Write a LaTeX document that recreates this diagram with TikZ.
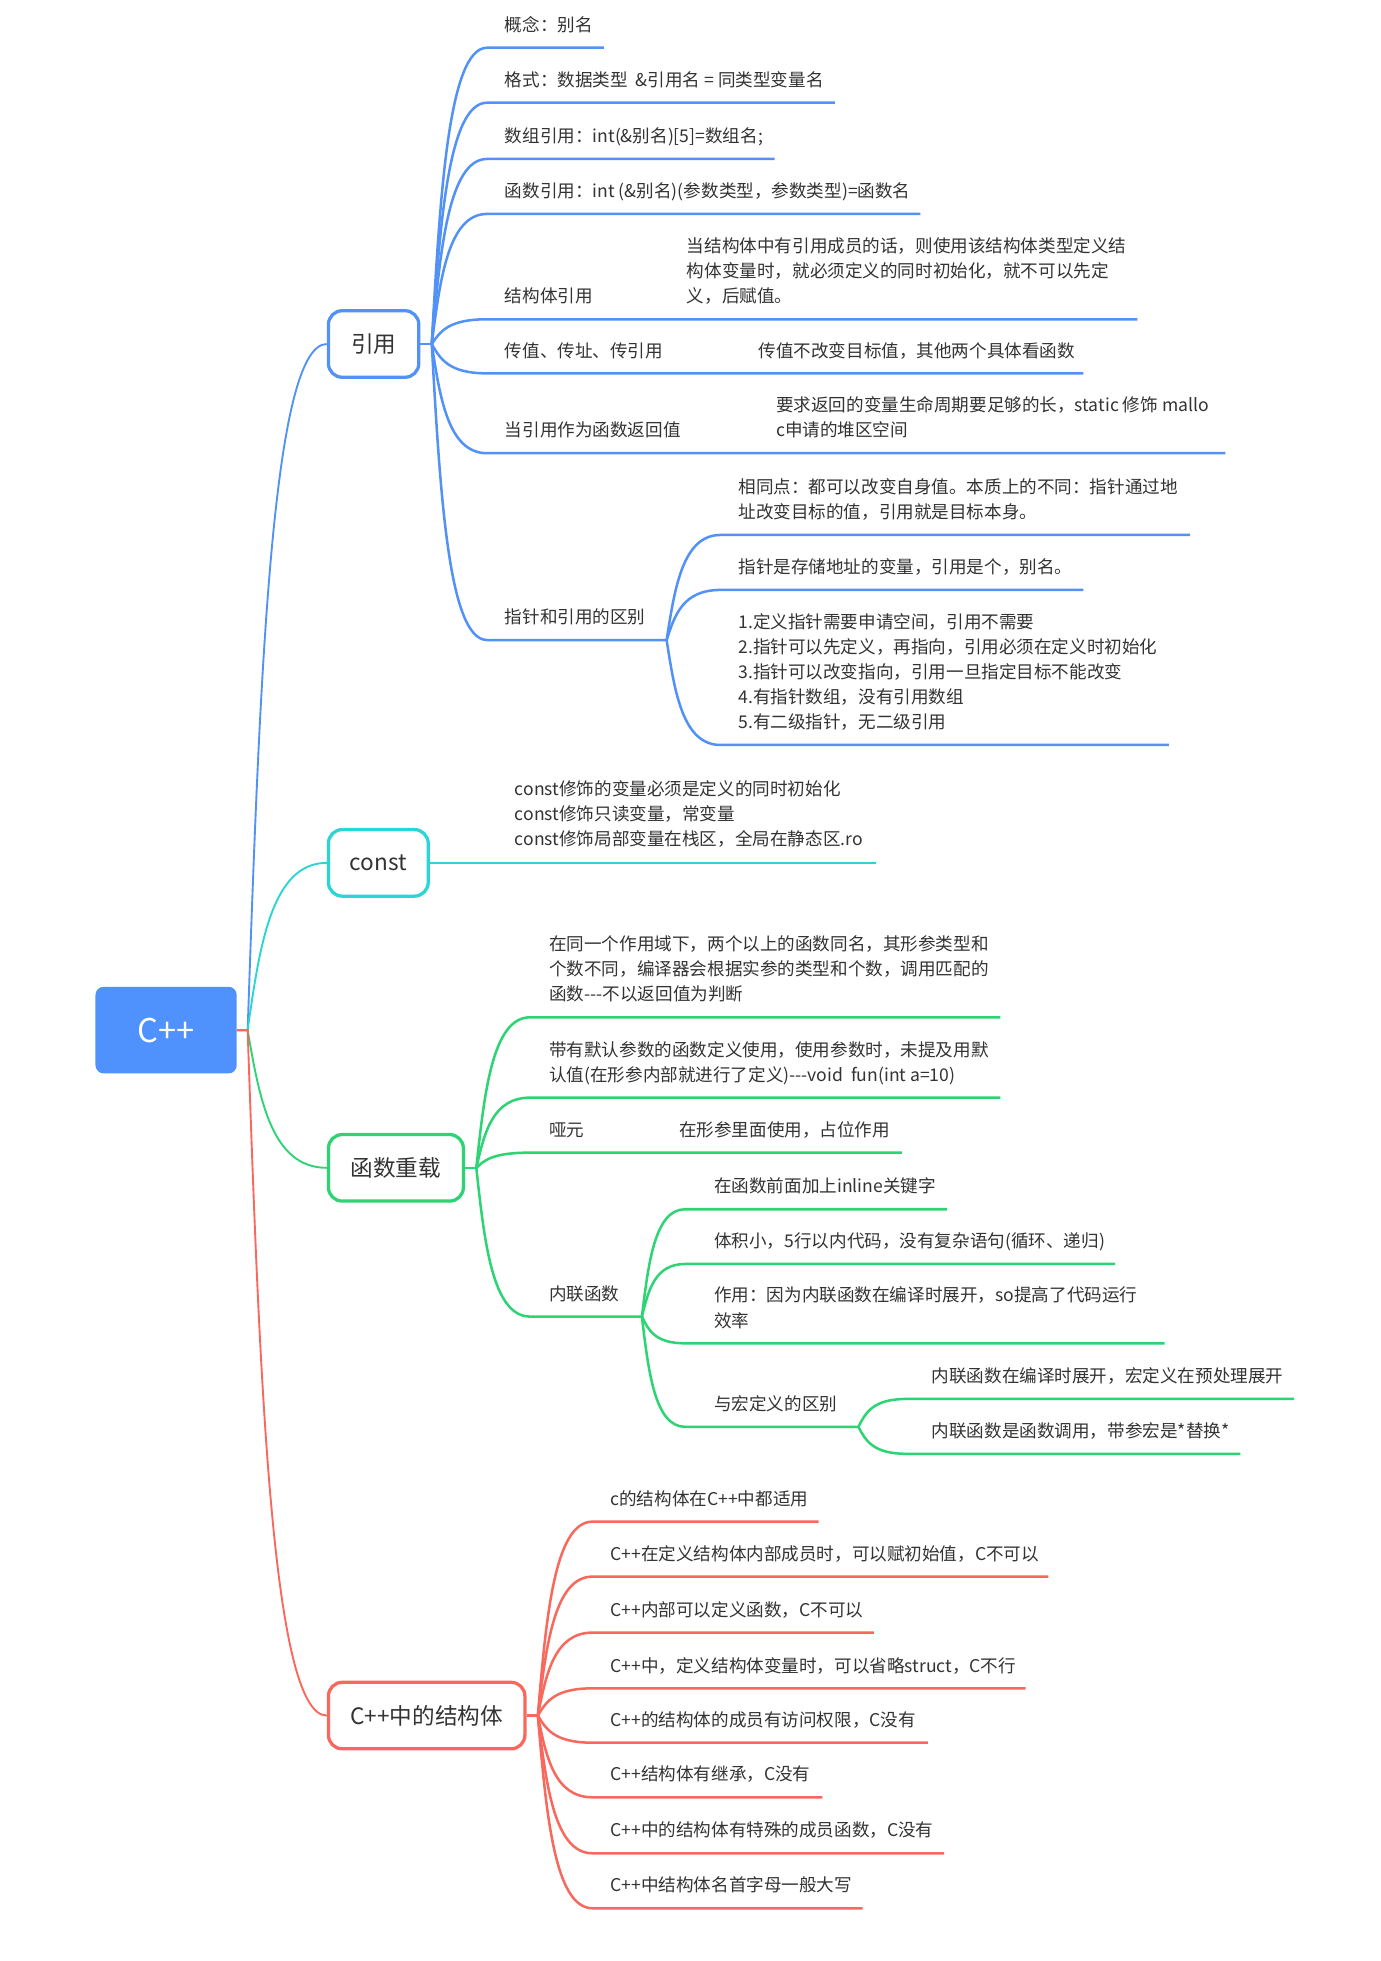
\documentclass[tikz,border=0pt]{standalone}
\usepackage{fontspec}
\setmainfont{Noto Sans CJK SC}
\usetikzlibrary{calc}
\definecolor{rootblue}{HTML}{4F92FD}
\definecolor{refblue}{HTML}{5292F7}
\definecolor{constcyan}{HTML}{2AD5D6}
\definecolor{ovlgreen}{HTML}{2DD474}
\definecolor{structred}{HTML}{F8685D}
\definecolor{txtgray}{HTML}{333333}
\begin{document}
\begin{tikzpicture}[x=1pt,y=-1pt,
  twig/.style={to path={let \p1=(\tikztostart), \p2=(\tikztotarget) in
    .. controls ({0.85*\x1+0.15*\x2},{0.5*\y1+0.5*\y2}) and ({0.7*\x1+0.3*\x2},\y2) .. (\tikztotarget) \tikztonodes}},
  leaf/.style={anchor=base west, inner sep=0pt, text=txtgray,
    font=\fontsize{14}{20}\selectfont},
  upline/.style={leaf, yshift=20pt},
  topic/.style={draw=#1, fill=white, line width=2.6pt, rounded corners=11pt, anchor=west,
    minimum height=53pt, inner xsep=14pt, text=txtgray,
    font=\fontsize{18}{22}\selectfont},
  limb/.style={draw=#1, line width=1.5pt},
  twigline/.style={draw=#1, line width=2pt},
]
  \fill[white] (0,0) rectangle (1100,1562);
  \useasboundingbox (0,0) rectangle (1100,1562);
  % Wurzel
  \node[fill=rootblue, rounded corners=6.5pt, minimum width=112.5pt, minimum height=69pt,
    text=white, font=\fontsize{26}{30}\selectfont] (cpp) at (132.3,820.5) {C++};
  \coordinate (cHub) at ([xshift=8.5pt]cpp.east);
  % Hauptäste
  \node[topic=refblue, minimum width=72pt] (ref) at (260.3,274) {引用};
  \node[topic=constcyan, minimum width=79.5pt] (const) at (260.3,687.3) {const};
  \node[topic=ovlgreen, minimum width=107.5pt] (ovl) at (260.3,930.2) {函数重载};
  \node[topic=structred, minimum width=156.5pt] (st) at (260.3,1366.5) {C++中的结构体};
  \draw[limb=refblue] (cpp.east) -- (cHub) to[twig] (ref.west);
  \draw[limb=constcyan] (cpp.east) -- (cHub) to[twig] (const.west);
  \draw[limb=ovlgreen] (cpp.east) -- (cHub) to[twig] (ovl.west);
  \draw[limb=structred] (cpp.east) -- (cHub) to[twig] (st.west);
  % Referenz
  \coordinate (rHub) at ([xshift=9pt]ref.east);
  \draw[twigline=refblue] (ref.east) -- (rHub);
  \foreach \nm/\yb/\lw/\tx in {
      r1/25/93/{概念：别名},
      r2/68.8/277/{格式：数据类型~~\&引用名 = 同类型变量名},
      r3/113.6/229/{数组引用：int(\&别名)[5]=数组名;},
      r4/157.4/345/{函数引用：int (\&别名)(参数类型，参数类型)=函数名},
      r5/241.3/518/{结构体引用},
      r6/284.4/475/{传值、传址、传引用},
      r7/348/588/{当引用作为函数返回值},
      r8/496.8/143/{指针和引用的区别}} {
    \node[leaf] (\nm) at (402,\yb) {\tx};
    \coordinate (\nm-s) at ([shift={(-14,13)}]\nm.base west);
    \draw[twigline=refblue] (\nm-s) -- +(\lw,0) (rHub) to[twig] (\nm-s);
  }
  \node[leaf] (r5n3) at (547,241.3) {义，后赋值。};
  \node[upline] (r5n2) at (r5n3.base west) {构体变量时，就必须定义的同时初始化，就不可以先定};
  \node[upline] (r5n1) at (r5n2.base west) {当结构体中有引用成员的话，则使用该结构体类型定义结};
  \node[leaf] (r6n) at (604,284.4) {传值不改变目标值，其他两个具体看函数};
  \node[leaf] (r7n2) at (618,348) {c申请的堆区空间};
  \node[upline] (r7n1) at (r7n2.base west) {要求返回的变量生命周期要足够的长，static 修饰 mallo};
  % Zeiger
  \coordinate (pHub) at ([shift={(129,13)}]r8.base west);
  \foreach \nm/\yb/\lw/\tx in {
      p1/413.1/374/{址改变目标的值，引用就是目标本身。},
      p2/456.9/289/{指针是存储地址的变量，引用是个，别名。},
      p3/580.4/357/{5.有二级指针，无二级引用}} {
    \node[leaf] (\nm) at (588,\yb) {\tx};
    \coordinate (\nm-s) at ([shift={(-14,13)}]\nm.base west);
    \draw[twigline=refblue] (\nm-s) -- +(\lw,0) (pHub) to[twig] (\nm-s);
  }
  \node[upline] (p1a) at (p1.base west) {相同点：都可以改变自身值。本质上的不同：指针通过地};
  \node[upline] (p3d) at (p3.base west) {4.有指针数组，没有引用数组};
  \node[upline] (p3c) at (p3d.base west) {3.指针可以改变指向，引用一旦指定目标不能改变};
  \node[upline] (p3b) at (p3c.base west) {2.指针可以先定义，再指向，引用必须在定义时初始化};
  \node[upline] (p3a) at (p3b.base west) {1.定义指针需要申请空间，引用不需要};
  % const
  \node[leaf] (c3) at (410,673.8) {const修饰局部变量在栈区，全局在静态区.ro};
  \node[upline] (c2) at (c3.base west) {const修饰只读变量，常变量};
  \node[upline] (c1) at (c2.base west) {const修饰的变量必须是定义的同时初始化};
  \draw[twigline=constcyan] (const.east) -- +(355,0);
  % Überladung
  \coordinate (fHub) at ([xshift=9pt]ovl.east);
  \draw[twigline=ovlgreen] (ovl.east) -- (fHub);
  \foreach \nm/\yb/\lw/\tx in {
      f1/797.3/374.5/{函数-{}-{}-不以返回值为判断},
      f2/861.3/374.5/{认值(在形参内部就进行了定义)-{}-{}-void\ \ fun(int a=10)},
      f3/905.1/296/{哑元},
      f4/1035.7/89/{内联函数}} {
    \node[leaf] (\nm) at (437.3,\yb) {\tx};
    \coordinate (\nm-s) at ([shift={(-15,13)}]\nm.base west);
    \draw[twigline=ovlgreen] (\nm-s) -- +(\lw,0) (fHub) to[twig] (\nm-s);
  }
  \node[upline] (f1b) at (f1.base west) {个数不同，编译器会根据实参的类型和个数，调用匹配的};
  \node[upline] (f1a) at (f1b.base west) {在同一个作用域下，两个以上的函数同名，其形参类型和};
  \node[upline] (f2a) at (f2.base west) {带有默认参数的函数定义使用，使用参数时，未提及用默};
  \node[leaf] (f3n) at (540.8,905.1) {在形参里面使用，占位作用};
  % Inline
  \coordinate (iHub) at ([shift={(74,13)}]f4.base west);
  \foreach \nm/\yb/\lw/\tx in {
      i1/950.2/208.5/{在函数前面加上inline关键字},
      i2/993.8/342.6/{体积小，5行以内代码，没有复杂语句(循环、递归)},
      i3/1057/382/{效率},
      i4/1123.5/138/{与宏定义的区别}} {
    \node[leaf] (\nm) at (568.7,\yb) {\tx};
    \coordinate (\nm-s) at ([shift={(-23,13)}]\nm.base west);
    \draw[twigline=ovlgreen] (\nm-s) -- +(\lw,0) (iHub) to[twig] (\nm-s);
  }
  \node[upline] (i3a) at (i3.base west) {作用：因为内联函数在编译时展开，so提高了代码运行};
  \coordinate (mHub) at ([shift={(115,13)}]i4.base west);
  \foreach \nm/\yb/\lw/\tx in {
      m1/1101.3/308.7/{内联函数在编译时展开，宏定义在预处理展开},
      m2/1145/266/{内联函数是函数调用，带参宏是*替换*}} {
    \node[leaf] (\nm) at (742,\yb) {\tx};
    \coordinate (\nm-s) at ([shift={(-20,13)}]\nm.base west);
    \draw[twigline=ovlgreen] (\nm-s) -- +(\lw,0) (mHub) to[twig] (\nm-s);
  }
  % Strukturen
  \coordinate (sHub) at ([xshift=9pt]st.east);
  \draw[twigline=structred] (st.east) -- (sHub);
  \foreach \nm/\yb/\lw/\tx in {
      s1/1199/180/{c的结构体在C++中都适用},
      s2/1242.8/363/{C++在定义结构体内部成员时，可以赋初始值，C不可以},
      s3/1287.4/224/{C++内部可以定义函数，C不可以},
      s4/1331.8/345/{C++中，定义结构体变量时，可以省略struct，C不行},
      s5/1375.1/267/{C++的结构体的成员有访问权限，C没有},
      s6/1418.6/183/{C++结构体有继承，C没有},
      s7/1463.2/280/{C++中的结构体有特殊的成员函数，C没有},
      s8/1507/215/{C++中结构体名首字母一般大写}} {
    \node[leaf] (\nm) at (486,\yb) {\tx};
    \coordinate (\nm-s) at ([shift={(-14,13)}]\nm.base west);
    \draw[twigline=structred] (\nm-s) -- +(\lw,0) (sHub) to[twig] (\nm-s);
  }
\end{tikzpicture}
\end{document}
